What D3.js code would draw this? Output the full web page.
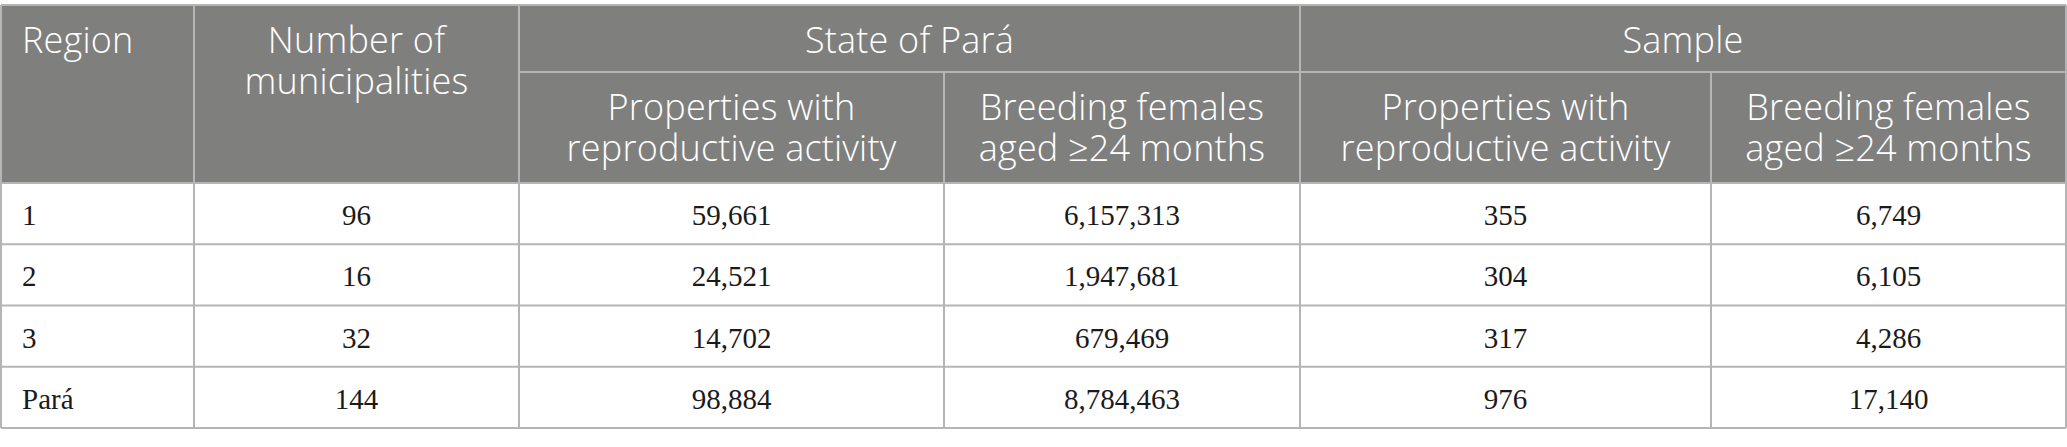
<!DOCTYPE html>
<html>
<head>
<meta charset="utf-8">
<script src="https://cdn.jsdelivr.net/npm/d3@7"></script>
<style>
  html, body { margin: 0; padding: 0; background: #fff; }
  svg { display: block; }
</style>
</head>
<body>
<div id="chart"></div>
<script>
// table data
const regions = ["1", "2", "3", "Pará"];
const municipalities = [96, 16, 32, 144];
const stateProperties = [59661, 24521, 14702, 98884];
const stateFemales = [6157313, 1947681, 679469, 8784463];
const sampleProperties = [355, 304, 317, 976];
const sampleFemales = [6749, 6105, 4286, 17140];

const groupLabels = ["State of Pará", "Sample"];
const subLabels = [
    ["Properties with", "reproductive activity"],
    ["Breeding females", "aged \u226524 months"]
];

const width = 2067;
const height = 447;

// column edges (layout)
const colEdges = [1, 194, 519, 944, 1300, 1711, 2066];
const headTop = 5, headMid = 72, headBottom = 183, tableBottom = 428;
const lineGap = 41;

const lineColor = "#b5b5b5";
const headFill = "#7f807e";
const headFont = "'Open Sans', 'Noto Sans', sans-serif";
const bodyFont = "'Liberation Serif', 'DejaVu Serif', serif";

const svg = d3.select("#chart").append("svg")
    .attr("width", width)
    .attr("height", height);

const y = d3.scaleBand()
    .domain(regions)
    .range([headBottom, tableBottom]);

const fmt = d3.format(",");
const columns = [municipalities, stateProperties, stateFemales, sampleProperties, sampleFemales];

// header background
svg.append("rect")
    .attr("x", colEdges[0])
    .attr("y", headTop)
    .attr("width", colEdges[6] - colEdges[0])
    .attr("height", headBottom - headTop)
    .attr("fill", headFill);

const lines = svg.append("g")
    .attr("stroke", lineColor)
    .attr("stroke-width", 2);

// top border
lines.append("line")
    .attr("x1", colEdges[0]).attr("x2", colEdges[6])
    .attr("y1", headTop).attr("y2", headTop);

// header group separator
lines.append("line")
    .attr("x1", colEdges[2]).attr("x2", colEdges[6])
    .attr("y1", headMid).attr("y2", headMid);

// full height verticals
[0, 1, 2, 4, 6].forEach(i => {
    lines.append("line")
        .attr("x1", colEdges[i]).attr("x2", colEdges[i])
        .attr("y1", headTop).attr("y2", tableBottom);
});

// sub column verticals
[3, 5].forEach(i => {
    lines.append("line")
        .attr("x1", colEdges[i]).attr("x2", colEdges[i])
        .attr("y1", headMid).attr("y2", tableBottom);
});

// row lines
regions.forEach(r => {
    lines.append("line")
        .attr("x1", colEdges[0]).attr("x2", colEdges[6])
        .attr("y1", y(r)).attr("y2", y(r));
});
lines.append("line")
    .attr("x1", colEdges[0]).attr("x2", colEdges[6])
    .attr("y1", tableBottom).attr("y2", tableBottom);

// header text
const head = svg.append("g")
    .attr("fill", "#fff")
    .style("font-family", headFont)
    .style("font-weight", 300)
    .style("letter-spacing", "0.2px")
    .style("font-size", "36px");

head.append("text")
    .attr("x", 22)
    .attr("y", 53)
    .text("Region");

head.append("text")
    .attr("text-anchor", "middle")
    .attr("x", (colEdges[1] + colEdges[2]) / 2)
    .attr("y", 53)
    .text("Number of");
head.append("text")
    .attr("text-anchor", "middle")
    .attr("x", (colEdges[1] + colEdges[2]) / 2)
    .attr("y", 53 + lineGap)
    .text("municipalities");

groupLabels.forEach((g, i) => {
    head.append("text")
        .attr("text-anchor", "middle")
        .attr("x", (colEdges[2 + i * 2] + colEdges[4 + i * 2]) / 2)
        .attr("y", 53)
        .text(g);
});

[2, 3, 4, 5].forEach((c, i) => {
    const lbl = subLabels[i % 2];
    const cx = (colEdges[c] + colEdges[c + 1]) / 2;
    lbl.forEach((t, k) => {
        head.append("text")
            .attr("text-anchor", "middle")
            .attr("x", cx)
            .attr("y", 120 + k * lineGap)
            .text(t);
    });
});

// body text
const body = svg.append("g")
    .attr("fill", "#1a1a1a")
    .style("font-family", bodyFont)
    .style("font-size", "29px");

body.selectAll(".region")
    .data(regions)
    .enter().append("text")
    .attr("class", "region")
    .attr("x", 22)
    .attr("y", d => y(d) + 42)
    .text(d => d);

columns.forEach((vals, c) => {
    const cx = (colEdges[c + 1] + colEdges[c + 2]) / 2;
    body.selectAll(".col" + c)
        .data(vals)
        .enter().append("text")
        .attr("class", "col" + c)
        .attr("text-anchor", "middle")
        .attr("x", cx)
        .attr("y", (d, i) => y(regions[i]) + 42)
        .text(d => fmt(d));
});
</script>
</body>
</html>
